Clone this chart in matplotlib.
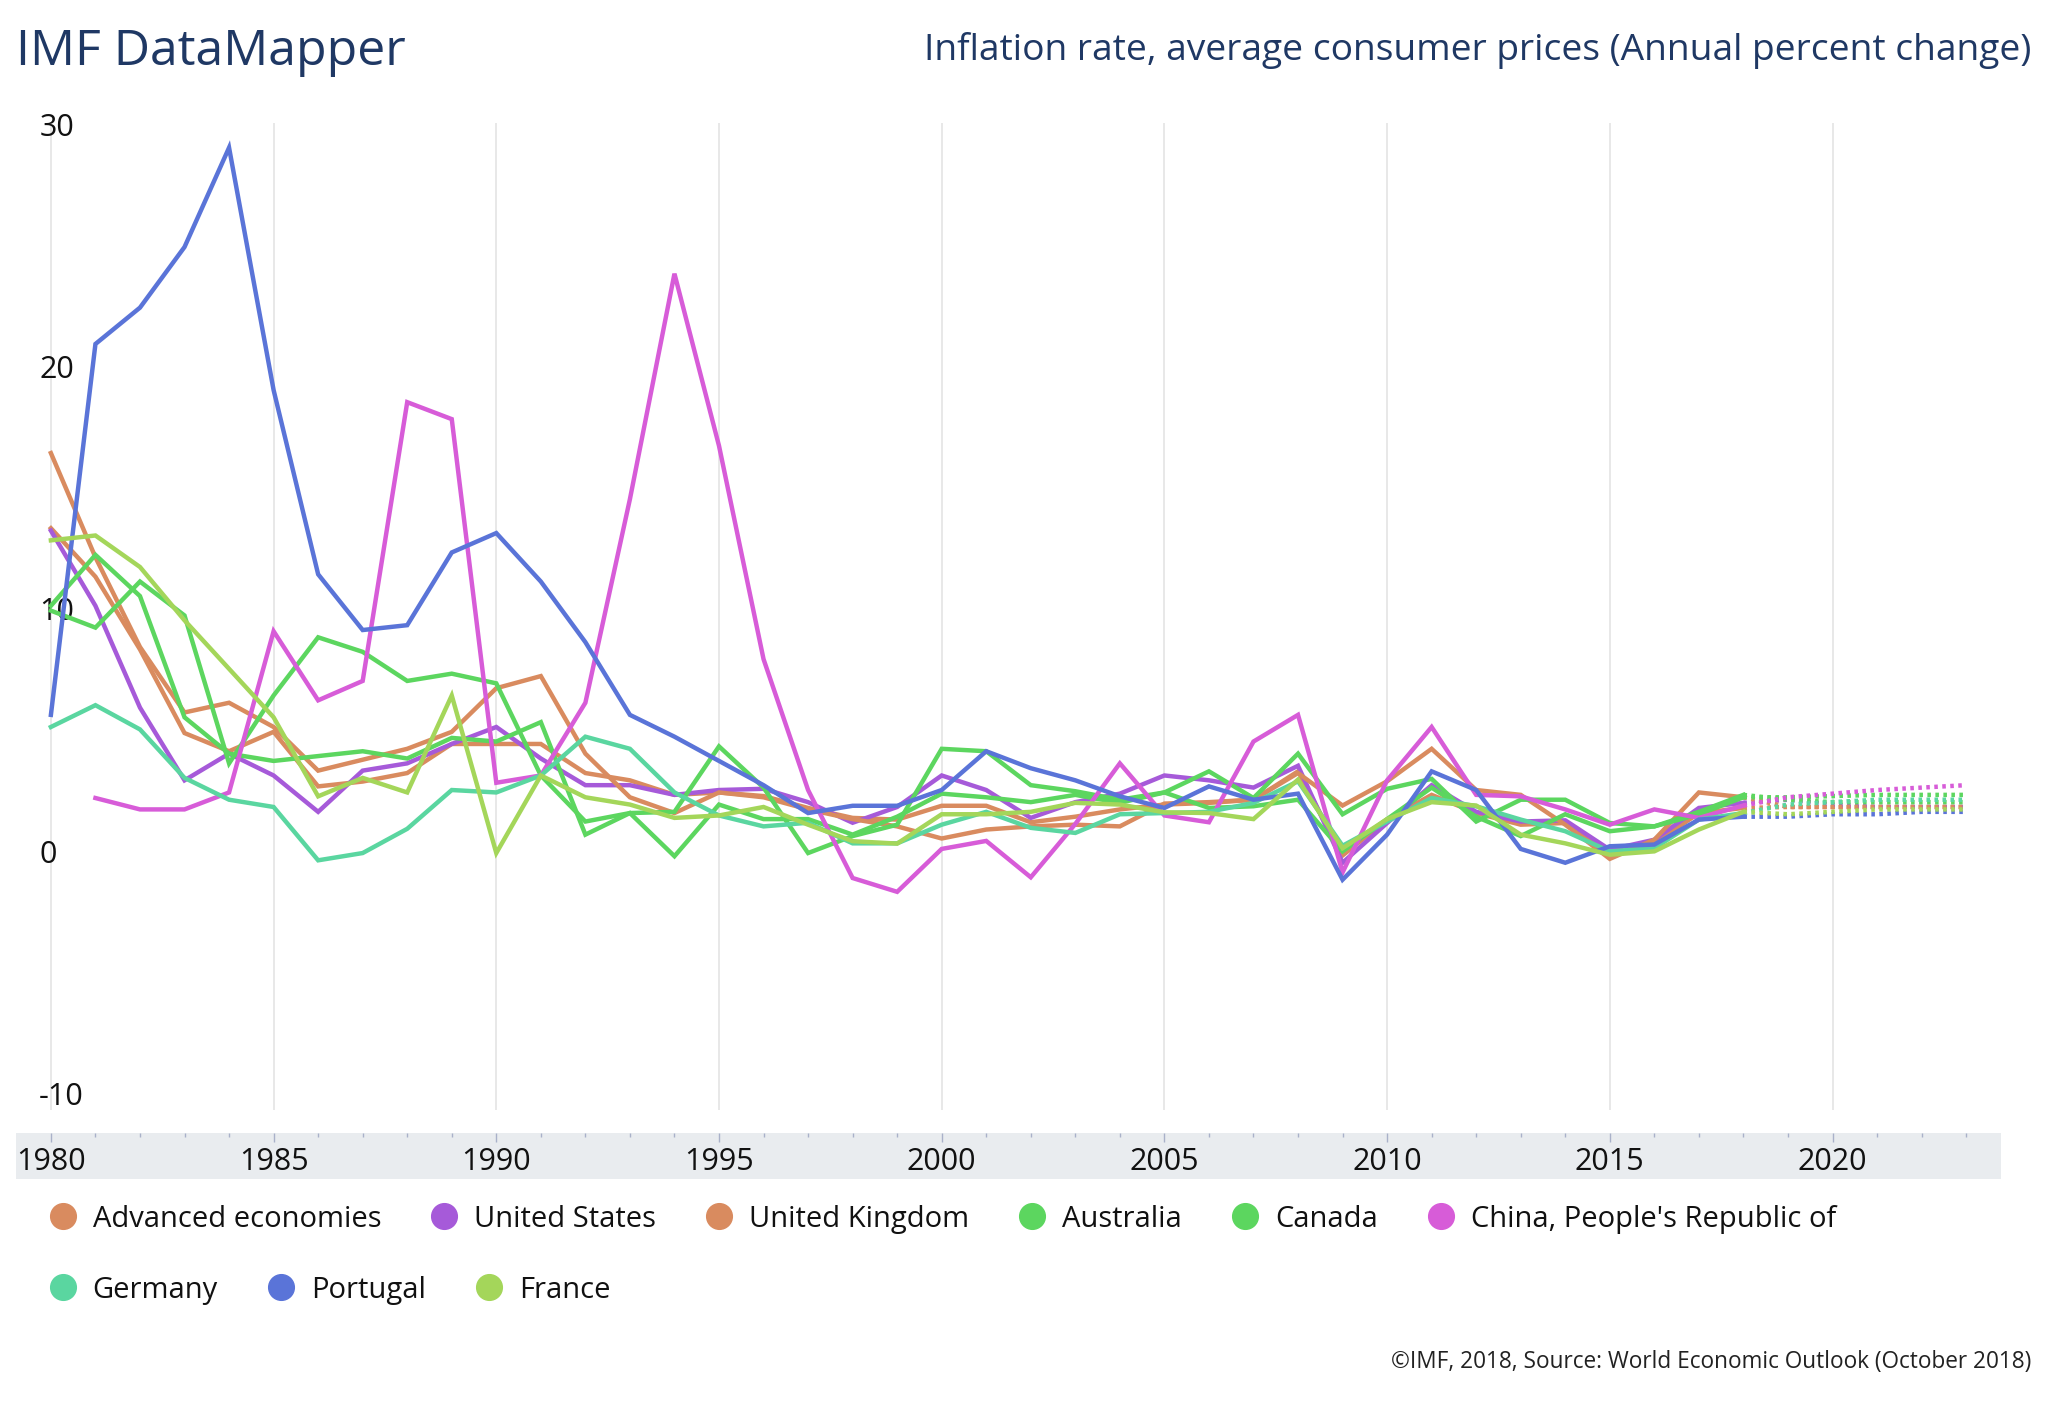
import numpy as np
import matplotlib
matplotlib.use('Agg')
import matplotlib.pyplot as plt
from matplotlib.lines import Line2D

plt.rcParams['font.family'] = ['Open Sans', 'DejaVu Sans']

# Years of actual data and of the forecast (forecast starts at the last actual year)
years = list(range(1980, 2019))
forecast_years = list(range(2018, 2024))
tick_years = list(range(1980, 2021, 5))
y_ticks = [30, 20, 10, 0, -10]

series_names = ['Advanced economies', 'United States', 'United Kingdom', 'Australia',
                'Canada', "China, People's Republic of", 'Germany', 'Portugal', 'France']
series_colors = ['#d98b5f', '#a65ad9', '#d98b5f', '#5cd65f', '#5cd65f',
                 '#d75cd8', '#5ad6a0', '#5a74d8', '#a4d65a']

advanced = [13.3, 11.3, 8.3, 4.85, 4.1, 4.9, 2.65, 2.85, 3.2, 4.4,
            4.4, 4.4, 3.2, 2.9, 2.3, 2.4, 2.25, 1.76, 1.35, 1.28,
            1.85, 1.85, 1.17, 1.4, 1.7, 1.9, 1.97, 2.1, 3.27, -0.2,
            1.28, 2.3, 1.55, 1.07, 1.14, -0.17, 0.3, 1.55, 1.76]
united_states = [13.2, 10.1, 5.9, 2.9, 4.0, 3.1, 1.6, 3.3, 3.6, 4.4,
                 5.1, 3.8, 2.7, 2.7, 2.3, 2.5, 2.55, 2.0, 1.15, 1.8,
                 3.1, 2.5, 1.35, 2.0, 2.35, 3.1, 2.9, 2.6, 3.5, -0.5,
                 1.14, 2.7, 1.6, 1.2, 1.25, 0.04, 0.45, 1.76, 1.97]
united_kingdom = [16.4, 12.1, 8.4, 5.7, 6.1, 5.1, 3.3, 3.75, 4.2, 4.9,
                  6.7, 7.2, 4.0, 2.2, 1.55, 2.4, 2.2, 1.7, 1.3, 1.0,
                  0.5, 0.87, 1.0, 1.07, 1.0, 1.94, 2.0, 2.1, 3.2, 1.86,
                  2.86, 4.2, 2.5, 2.3, 1.07, -0.34, 0.45, 2.4, 2.2]
australia = [9.9, 9.2, 11.1, 9.7, 3.6, 6.4, 8.8, 8.2, 7.0, 7.3,
             6.9, 3.1, 1.2, 1.55, 1.6, 4.3, 2.6, -0.1, 0.6, 1.07,
             4.2, 4.1, 2.7, 2.45, 2.1, 2.4, 3.27, 2.17, 4.0, 1.5,
             2.55, 2.96, 1.2, 2.1, 2.1, 1.14, 1.0, 1.5, 2.2]
canada = [10.1, 12.2, 10.5, 5.5, 4.0, 3.7, 3.9, 4.1, 3.8, 4.65,
          4.5, 5.3, 0.66, 1.55, -0.23, 1.9, 1.3, 1.3, 0.66, 1.4,
          2.35, 2.2, 2.0, 2.3, 1.97, 2.4, 1.76, 1.83, 2.1, -0.03,
          1.3, 2.6, 1.4, 0.6, 1.5, 0.8, 1.0, 1.6, 2.3]
china = [np.nan, 2.17, 1.7, 1.7, 2.4, 9.05, 6.2, 7.0, 18.5, 17.8,
         2.8, 3.1, 6.1, 14.5, 23.8, 16.7, 7.9, 2.5, -1.13, -1.7,
         0.07, 0.4, -1.1, 1.1, 3.6, 1.45, 1.17, 4.5, 5.6, -0.9,
         2.9, 5.1, 2.3, 2.24, 1.7, 1.07, 1.7, 1.35, 1.86]
germany = [5.1, 6.0, 5.0, 3.0, 2.1, 1.8, -0.4, -0.1, 0.9, 2.5,
           2.4, 3.1, 4.7, 4.2, 2.4, 1.45, 1.0, 1.15, 0.3, 0.3,
           1.07, 1.6, 0.94, 0.73, 1.5, 1.55, 1.6, 1.97, 2.86, 0.2,
           1.2, 2.17, 1.83, 1.28, 0.8, -0.03, 0.1, 1.28, 1.55]
portugal = [5.6, 20.9, 22.4, 24.9, 29.0, 19.0, 11.4, 9.1, 9.3, 12.3,
            13.1, 11.1, 8.6, 5.6, 4.7, 3.7, 2.7, 1.55, 1.85, 1.85,
            2.5, 4.1, 3.4, 2.9, 2.24, 1.76, 2.65, 2.1, 2.35, -1.2,
            0.66, 3.27, 2.5, 0.07, -0.5, 0.18, 0.25, 1.28, 1.4]
france = [12.8, 13.0, 11.7, 9.5, 7.5, 5.5, 2.24, 3.0, 2.4, 6.4,
          -0.1, 3.1, 2.2, 1.9, 1.35, 1.45, 1.8, 1.07, 0.39, 0.29,
          1.5, 1.5, 1.6, 1.97, 1.9, 1.58, 1.55, 1.3, 2.93, 0.1,
          1.3, 2.0, 1.86, 0.66, 0.3, -0.17, -0.03, 0.87, 1.6]

# forecasts 2019-2023
advanced_fc = [1.8, 1.8, 1.8, 1.8, 1.8]
united_states_fc = [2.1, 1.9, 1.8, 1.8, 1.8]
united_kingdom_fc = [1.8, 1.8, 1.8, 1.8, 1.8]
australia_fc = [2.2, 2.25, 2.3, 2.3, 2.3]
canada_fc = [2.1, 2.0, 2.0, 2.0, 2.0]
china_fc = [2.2, 2.35, 2.5, 2.6, 2.7]
germany_fc = [1.9, 2.0, 2.1, 2.1, 2.1]
portugal_fc = [1.4, 1.5, 1.5, 1.6, 1.6]
france_fc = [1.5, 1.6, 1.7, 1.7, 1.7]

actuals = [advanced, united_states, united_kingdom, australia, canada,
           china, germany, portugal, france]
forecasts = [advanced_fc, united_states_fc, united_kingdom_fc, australia_fc, canada_fc,
             china_fc, germany_fc, portugal_fc, france_fc]

W, H = 2048, 1406
fig = plt.figure(figsize=(W / 100, H / 100), dpi=100)
fig.patch.set_facecolor('white')


def year_at(px):
    return 1980 + (px - 50.9) / 44.54


xlim = (year_at(15.7), year_at(2001))
ax = fig.add_axes([15.7 / W, 1 - 1110 / H, (2001 - 15.7) / W, (1110 - 123.4) / H])
ax.set_xlim(*xlim)
ax.set_ylim(-10.7, 30)
ax.axis('off')
ax.vlines(tick_years, -10.7, 30, color='#e4e4e4', lw=1.2, zorder=0)

for v in y_ticks:
    ax.text(year_at(39.2), v - 0.5, str(v), ha='left', va='baseline',
            fontsize=22, color='#111111', zorder=1)

for vals, fc, col in zip(actuals, forecasts, series_colors):
    ax.plot(years, vals, color=col, lw=3.2, zorder=3, solid_joinstyle='miter')
    ax.plot(forecast_years, [vals[-1]] + fc, color=col, lw=3.2,
            linestyle=(0, (0.8, 1.0)), zorder=3)

# x-axis band
axb = fig.add_axes([15.7 / W, 1 - 1179 / H, (2001 - 15.7) / W, (1179 - 1133) / H])
axb.set_xlim(*xlim)
axb.set_ylim(0, 1)
axb.set_facecolor('#e9ecef')
for s in axb.spines.values():
    s.set_visible(False)
axb.set_xticks(tick_years)
axb.set_xticks(list(range(1981, 2024)), minor=True)
axb.set_yticks([])
axb.tick_params(axis='x', which='both', direction='in', top=True, bottom=False,
                labelbottom=False, labeltop=False, color='#a9b1c9', width=1)
axb.tick_params(axis='x', which='major', length=6.5)
axb.tick_params(axis='x', which='minor', length=3)
for yr in tick_years:
    axb.text(yr, 0.2, str(yr), ha='center', va='baseline', fontsize=22, color='#111111')

# titles
fig.text(15.7 / W, 1 - 65 / H, 'IMF DataMapper', fontsize=36, color='#1f3864',
         ha='left', va='baseline')
fig.text(2031 / W, 1 - 60 / H,
         'Inflation rate, average consumer prices (Annual percent change)',
         fontsize=26.7, color='#1f3864', ha='right', va='baseline')
fig.text(2031 / W, 1 - 1368 / H,
         '\u00a9IMF, 2018, Source: World Economic Outlook (October 2018)',
         fontsize=16.3, color='#222222', ha='right', va='baseline')

# legend, laid out like the original (two rows, items packed left)
renderer = fig.canvas.get_renderer()
rows = [(range(0, 6), 1216), (range(6, 9), 1287)]
for idx, y_px in rows:
    x_px = 62.7
    for i in idx:
        fig.add_artist(Line2D([x_px / W], [1 - y_px / H], marker='o', markersize=18.5,
                              color=series_colors[i], linestyle='none',
                              transform=fig.transFigure))
        t = fig.text((x_px + 30) / W, 1 - (y_px + 11) / H, series_names[i],
                     fontsize=21, color='#111111', ha='left', va='baseline')
        w = t.get_window_extent(renderer).width
        x_px = x_px + 30 + w + 63

fig.savefig('out.png', dpi=100)
